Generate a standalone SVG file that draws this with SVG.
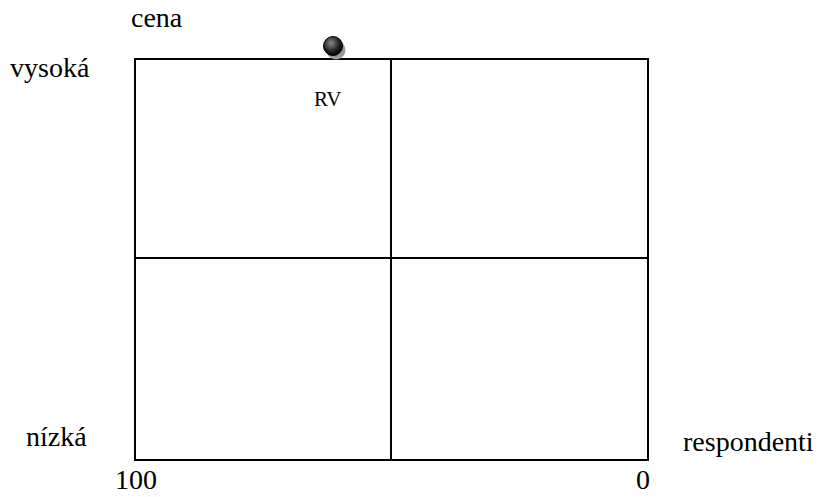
<svg xmlns="http://www.w3.org/2000/svg" width="835" height="497" viewBox="0 0 835 497">
<style>
.ln{stroke:#000;stroke-width:2;fill:none}
.t{font-family:"Liberation Serif","Times New Roman",serif;font-size:28px;fill:#000}
</style>
<defs>
<radialGradient id="g" cx="0.4" cy="0.35" r="0.7">
<stop offset="0" stop-color="#888"/>
<stop offset="0.6" stop-color="#222"/>
<stop offset="1" stop-color="#000"/>
</radialGradient>
</defs>
<rect width="835" height="497" fill="#fff"/>
<g id="connectors">
<rect class="ln" x="135" y="59" width="513" height="401"/>
<line class="ln" x1="391" y1="59" x2="391" y2="460"/>
<line class="ln" x1="135" y1="258" x2="648" y2="258"/>
</g>
<g id="rv">
<circle cx="336" cy="50" r="9.5" fill="#999"/>
<circle cx="333" cy="46" r="9.5" fill="url(#g)" stroke="#000" stroke-width="1"/>
<text class="t" x="314" y="106" style="font-size:21px">RV</text>
</g>
<g id="labels">
<text class="t" x="131" y="27">cena</text>
<text class="t" x="10" y="77">vysoká</text>
<text class="t" x="26" y="446">nízká</text>
<text class="t" x="683" y="451">respondenti</text>
<text class="t" x="115" y="489">100</text>
<text class="t" x="636" y="489">0</text>
</g>
</svg>
